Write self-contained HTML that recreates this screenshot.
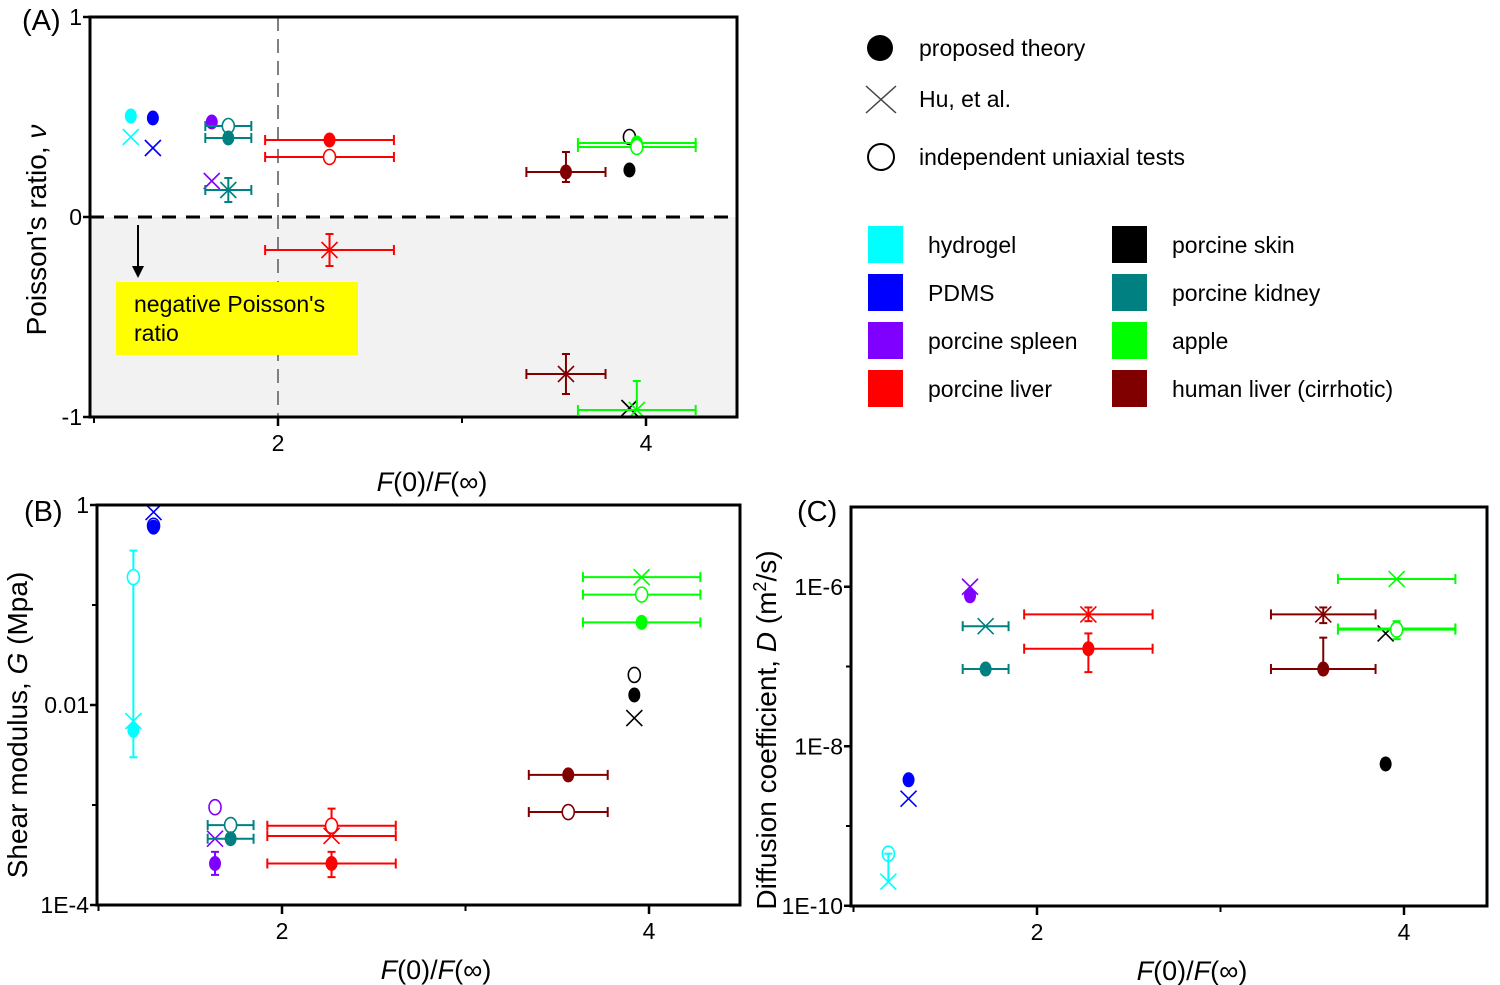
<!DOCTYPE html>
<html><head><meta charset="utf-8">
<style>
html,body{margin:0;padding:0;background:#fff;}
svg{display:block;font-family:"Liberation Sans",Arial,sans-serif;}
</style></head>
<body>
<svg id="fig" width="1500" height="985" viewBox="0 0 1500 985">
  <g id="gA"></g>
  <g id="gB"></g>
  <g id="gC"></g>
  <g id="legend">
    <ellipse cx="880" cy="48" rx="13" ry="13" fill="#000"/>
    <text x="919" y="56" font-size="23">proposed theory</text>
    <path d="M866,86 L896,113 M896,86 L866,113" stroke="#444" stroke-width="1.5"/>
    <text x="919" y="107" font-size="23">Hu, et al.</text>
    <ellipse cx="881" cy="157" rx="13" ry="13" fill="none" stroke="#000" stroke-width="2"/>
    <text x="919" y="165" font-size="23">independent uniaxial tests</text>
  </g>
</svg>
<script>
// ---------- data ----------
const materials = ["hydrogel","PDMS","porcine spleen","porcine liver","porcine skin","porcine kidney","apple","human liver (cirrhotic)"];
const matColors = ["#00ffff","#0000ff","#8000ff","#ff0000","#000000","#008080","#00ff00","#800000"];
// entries: [materialIndex, method(0 theory,1 Hu,2 uniaxial), x, y, xErr, yLo, yHi]
const dataA = [
 [0,0,1.20,0.505,0,null,null],[0,1,1.20,0.40,0,null,null],
 [1,0,1.32,0.495,0,null,null],[1,1,1.32,0.345,0,null,null],
 [2,0,1.64,0.475,0,null,null],[2,1,1.64,0.18,0,null,null],
 [5,2,1.73,0.455,0.125,null,null],[5,0,1.73,0.395,0.125,null,null],[5,1,1.73,0.135,0.125,0.075,0.195],
 [3,0,2.28,0.385,0.35,null,null],[3,2,2.28,0.30,0.35,null,null],[3,1,2.28,-0.165,0.35,-0.245,-0.085],
 [7,0,3.565,0.225,0.215,0.175,0.325],[7,1,3.565,-0.785,0.215,-0.885,-0.685],
 [4,2,3.91,0.40,0,null,null],[4,0,3.91,0.235,0,null,null],[4,1,3.91,-0.955,0,null,null],
 [6,0,3.95,0.37,0.32,null,null],[6,2,3.95,0.35,0.32,null,null],[6,1,3.95,-0.965,0.32,-0.965,-0.82]
];
const dataB = [
 [0,2,1.19,0.19,0,0.0056,0.35],[0,1,1.19,0.0069,0,null,null],[0,0,1.19,0.0056,0,0.003,0.0056],
 [1,1,1.30,0.85,0,null,null],[1,2,1.30,0.62,0,null,null],[1,0,1.30,0.6,0,null,null],
 [2,2,1.635,0.00095,0,null,null],[2,1,1.635,0.00046,0,null,null],[2,0,1.635,0.00026,0,0.000200,0.00034],
 [5,2,1.72,0.00063,0.125,null,null],[5,0,1.72,0.00046,0.125,null,null],
 [3,2,2.27,0.00062,0.35,0.00062,0.00092],[3,1,2.27,0.00049,0.35,null,null],[3,0,2.27,0.00026,0.35,0.00019,0.00034],
 [7,0,3.56,0.0020,0.215,null,null],[7,2,3.56,0.00085,0.215,null,null],
 [4,2,3.92,0.020,0,null,null],[4,0,3.92,0.0126,0,null,null],[4,1,3.92,0.0074,0,null,null],
 [6,1,3.96,0.19,0.32,null,null],[6,2,3.96,0.127,0.32,null,null],[6,0,3.96,0.067,0.32,null,null]
];
const dataC = [
 [0,2,1.19,4.5e-10,0,null,null],[0,1,1.19,2e-10,0,2e-10,4.5e-10],
 [1,0,1.30,3.8e-9,0,null,null],[1,1,1.30,2.2e-9,0,null,null],
 [2,0,1.635,7.7e-7,0,null,null],[2,1,1.635,1.0e-6,0,null,null],
 [5,1,1.72,3.2e-7,0.125,null,null],[5,0,1.72,9.3e-8,0.125,null,null],
 [3,1,2.28,4.5e-7,0.35,3.7e-7,5.5e-7],[3,0,2.28,1.67e-7,0.35,8.5e-8,2.6e-7],
 [7,1,3.56,4.5e-7,0.285,3.5e-7,5.5e-7],[7,0,3.56,9.3e-8,0.285,null,2.3e-7],
 [4,0,3.90,6e-9,0,null,null],[4,1,3.90,2.6e-7,0,null,null],
 [6,1,3.96,1.25e-6,0.32,null,null],[6,0,3.96,3e-7,0.32,2.2e-7,3.7e-7],[6,2,3.96,2.9e-7,0.32,null,null]
];
const ticksA = [-1,0,1], tickLabelsA = ["-1","0","1"];
const ticksB = [1e-4,1e-2,1], tickLabelsB = ["1E-4","0.01","1"];
const ticksC = [1e-10,1e-8,1e-6], tickLabelsC = ["1E-10","1E-8","1E-6"];
const xTicks = [2,4], xTickLabels = ["2","4"];

// ---------- helpers ----------
const NS = "http://www.w3.org/2000/svg";
function mk(parent, tag, attrs){ const e=document.createElementNS(NS,tag); for(const k in attrs) e.setAttribute(k,attrs[k]); parent.appendChild(e); return e; }

function panel(g, cfg){
  const xS = v => cfg.x2px + (v-2)*cfg.xUnit;
  const yS = cfg.log ? (v => cfg.yTopPx + (cfg.yTopLog - Math.log10(v))*cfg.decPx)
                     : (v => cfg.y0px - v*cfg.yUnit);
  const L=cfg.L,R=cfg.R,T=cfg.T,B=cfg.B;
  if(cfg.shade){
    const r=mk(g,"rect",{x:L,y:yS(0),width:R-L,height:B-yS(0),fill:"#f2f2f2"});
    
    
  }
  if(cfg.vline){
    const l=mk(g,"line",{x1:xS(2),x2:xS(2),y1:T,y2:B,stroke:"#808080","stroke-width":2,"stroke-dasharray":"14,8"});
    
    
  }
  if(cfg.shade){
    const l=mk(g,"line",{x1:L,x2:R,y1:yS(0),y2:yS(0),stroke:"#000","stroke-width":3,"stroke-dasharray":"14,10"});
    
    
  }
  if(cfg.extra) cfg.extra(g);
  cfg.data.forEach(d=>{
    const [m,meth,x,y,xe,yl,yh]=d;
    const c=matColors[m], px=xS(x), py=yS(y);
    const pt=mk(g,"g",{});
    
    
    const sw=2;
    if(xe){
      const a=xS(x-xe), b=xS(x+xe);
      mk(pt,"line",{x1:a,x2:b,y1:py,y2:py,stroke:c,"stroke-width":sw});
      mk(pt,"line",{x1:a,x2:a,y1:py-5,y2:py+5,stroke:c,"stroke-width":sw});
      mk(pt,"line",{x1:b,x2:b,y1:py-5,y2:py+5,stroke:c,"stroke-width":sw});
    }
    if(yl!=null||yh!=null){
      const a=yS(yl!=null?yl:y), b=yS(yh!=null?yh:y);
      mk(pt,"line",{x1:px,x2:px,y1:a,y2:b,stroke:c,"stroke-width":sw});
      if(yl!=null&&yl!==y) mk(pt,"line",{x1:px-4,x2:px+4,y1:a,y2:a,stroke:c,"stroke-width":sw});
      if(yh!=null&&yh!==y) mk(pt,"line",{x1:px-4,x2:px+4,y1:b,y2:b,stroke:c,"stroke-width":sw});
    }
    if(meth===0) mk(pt,"ellipse",{cx:px,cy:py,rx:6,ry:7.5,fill:c});
    else if(meth===2) mk(pt,"ellipse",{cx:px,cy:py,rx:6,ry:7.5,fill:"#fff",stroke:c,"stroke-width":1.6});
    else { const s=8; mk(pt,"path",{d:`M${px-s},${py-s}L${px+s},${py+s}M${px+s},${py-s}L${px-s},${py+s}`,stroke:c,"stroke-width":1.6,fill:"none"}); }
  });
  const f=mk(g,"rect",{x:L,y:T,width:R-L,height:B-T,fill:"none",stroke:"#000","stroke-width":3});
  
  
  cfg.yt.forEach((v,i)=>{
    const y=yS(v);
    mk(g,"line",{x1:L-7,x2:L,y1:y,y2:y,stroke:"#000","stroke-width":2.5});
    const t=mk(g,"text",{x:L-8,y:y+8,"font-size":23,"text-anchor":"end"}); t.textContent=cfg.ytl[i];
    
    
  });
  (cfg.minorY||[]).forEach(v=>{ const y=yS(v); mk(g,"line",{x1:L-5,x2:L,y1:y,y2:y,stroke:"#000","stroke-width":2}); });
  [1,3].forEach(v=>{ const x=xS(v); if(x>L) mk(g,"line",{x1:x,x2:x,y1:B,y2:B+6,stroke:"#000","stroke-width":2}); });
  xTicks.forEach((v,i)=>{
    const x=xS(v);
    mk(g,"line",{x1:x,x2:x,y1:B,y2:B+9,stroke:"#000","stroke-width":2.5});
    const t=mk(g,"text",{x:x,y:B+34,"font-size":23,"text-anchor":"middle"}); t.textContent=xTickLabels[i];
    
    
  });
  const xt=mk(g,"text",{x:cfg.xtX,y:B+74,"font-size":27,"text-anchor":"middle"});
  xt.innerHTML='<tspan font-style="italic">F</tspan>(0)/<tspan font-style="italic">F</tspan>(∞)';
  
  
  const yt=mk(g,"text",{transform:`translate(${cfg.ytX},${cfg.ytY}) rotate(-90)`,"font-size":28,"text-anchor":"middle"});
  yt.innerHTML=cfg.ytitle;
  
  
  const pl=mk(g,"text",{x:cfg.plX,y:cfg.plY,"font-size":29}); pl.textContent=cfg.label;
  
  
}

panel(document.getElementById("gA"),{
  L:90,R:737,T:17,B:417,x2px:278,xUnit:184,log:false,y0px:217,yUnit:200,
  yt:ticksA,ytl:tickLabelsA,shade:true,vline:true,data:dataA,
  xtX:432,ytX:46,ytY:230,ytitle:"Poisson's ratio, <tspan font-style='italic'>ν</tspan>",
  plX:22,plY:30,label:"(A)",
  extra:g=>{
    mk(g,"line",{x1:138,x2:138,y1:225,y2:272,stroke:"#000","stroke-width":2});
    mk(g,"path",{d:"M132,266 L138,278 L144,266 Z",fill:"#000"});
    const r=mk(g,"rect",{x:116,y:282,width:242,height:73,fill:"#ffff00"});
    
    
    const t=mk(g,"text",{x:134,y:312,"font-size":23});
    t.innerHTML='<tspan x="134">negative Poisson\'s</tspan><tspan x="134" dy="29">ratio</tspan>';
    
    
  }
});
panel(document.getElementById("gB"),{
  L:97,R:740,T:505,B:905,x2px:282,xUnit:183.5,log:true,yTopPx:505,yTopLog:0,decPx:100,
  yt:ticksB,ytl:tickLabelsB,minorY:[1e-3,1e-1],data:dataB,
  xtX:436,ytX:27,ytY:725,ytitle:"Shear modulus, <tspan font-style='italic'>G</tspan> (Mpa)",
  plX:24,plY:521,label:"(B)"
});
panel(document.getElementById("gC"),{
  L:851,R:1487,T:507,B:906,x2px:1037,xUnit:183.5,log:true,yTopPx:507,yTopLog:-5,decPx:79.75,
  yt:ticksC,ytl:tickLabelsC,minorY:[1e-9,1e-7],data:dataC,
  xtX:1192,ytX:776,ytY:730,ytitle:"Diffusion coefficient, <tspan font-style='italic'>D</tspan> (m<tspan baseline-shift='super' font-size='18'>2</tspan>/s)",
  plX:797,plY:521,label:"(C)"
});

const lg=document.getElementById("legend");
materials.forEach((m,i)=>{
  const col=i<4?0:1, row=i%4;
  const x=col?1112:868, y=226+row*48;
  const r=mk(lg,"rect",{x:x,y:y,width:35,height:37,fill:matColors[i]});
  
  
  const t=mk(lg,"text",{x:x+60,y:y+27,"font-size":23}); t.textContent=m;
  
  
});
</script>
</body></html>
